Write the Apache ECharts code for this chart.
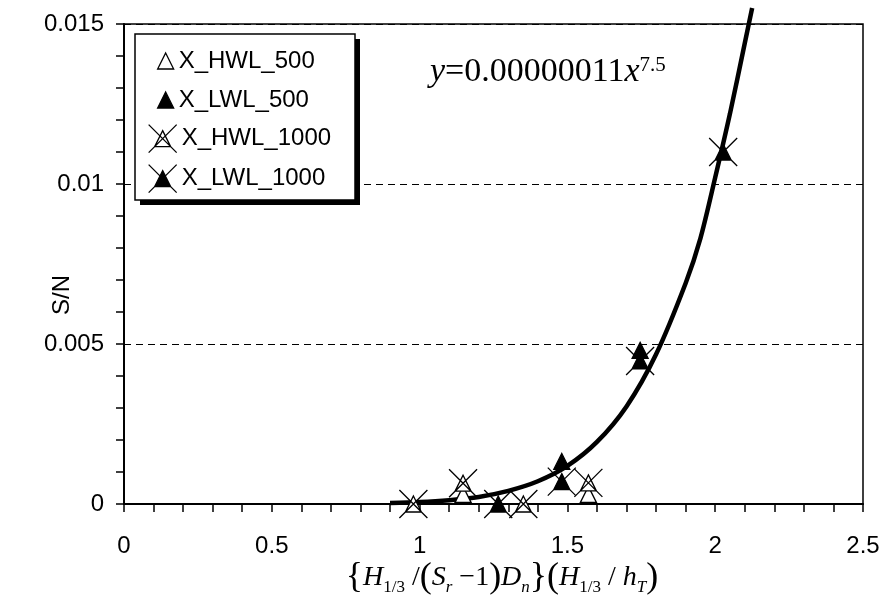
<!DOCTYPE html>
<html><head><meta charset="utf-8">
<script src="https://cdn.jsdelivr.net/npm/echarts@6/dist/echarts.min.js"></script>
<style>html,body{margin:0;padding:0;background:#fff}#c{width:883px;height:599px}</style>
</head><body><div id="c"></div>
<script>
// ---- data ----
const xTickLabels = ['0', '0.5', '1', '1.5', '2', '2.5'];
const yTickLabels = ['0', '0.005', '0.01', '0.015'];
const seriesNames = ['X_HWL_500', 'X_LWL_500', 'X_HWL_1000', 'X_LWL_1000'];
const hwl500 = [[1.147, 0.0003], [1.571, 0.0003]];
const lwl500 = [[1.481, 0.00133], [1.746, 0.0048]];
const hwl1000 = [[0.979, 0], [1.147, 0.00065], [1.351, 0], [1.571, 0.00066]];
const lwl1000 = [[1.266, 0], [1.481, 0.0007], [1.746, 0.00447], [2.027, 0.011]];
const fitX = [0.90, 1.00, 1.10, 1.20, 1.30, 1.40, 1.50, 1.60, 1.70, 1.80, 1.90, 1.95, 2.00, 2.05, 2.10, 2.125];
const fitY = [0.00003, 0.00006, 0.00012, 0.00022, 0.00041, 0.00071, 0.00119, 0.00194, 0.00305, 0.00468, 0.00690, 0.00830, 0.01020, 0.01220, 0.01440, 0.01550];
const equationParts = ['y', '=0.00000011', 'x', '7.5'];

// ---- chart ----
const chart = echarts.init(document.getElementById('c'), null, {renderer: 'canvas'});
const SANS = 'Liberation Sans';
const SERIF = 'Liberation Serif';
const comboPath = 'path://M0 0L28 28M28 0L0 28M14 6L22 22L6 22Z';

function fmt(list, ticks) {
  return function (v) {
    for (let i = 0; i < ticks.length; i++) if (Math.abs(v - ticks[i]) < 1e-9) return list[i];
    return '';
  };
}
const xTickVals = xTickLabels.map(Number);
const yTickVals = yTickLabels.map(Number);

const openStyle = {color: '#fff', borderColor: '#000', borderWidth: 1.3, opacity: 1};
const fillStyle = {color: '#000', borderColor: '#000', borderWidth: 1.3, opacity: 1};

function legendFor(name, left, top, size, gap, style) {
  return {
    data: [{name: name, itemStyle: style}], left: left, top: top, orient: 'horizontal', padding: 0,
    itemWidth: size, itemHeight: size, itemGap: 0, itemTextGap: gap,
    selectedMode: false, z: 6,
    itemStyle: style,
    textStyle: {fontFamily: SANS, fontSize: 24, color: '#000'}
  };
}

const axisCommon = {
  axisLine: {show: true, onZero: false, lineStyle: {color: '#000', width: 2}},
  axisTick: {show: true, inside: false, length: 8, lineStyle: {color: '#000', width: 1.5}},
  minorTick: {show: true, splitNumber: 5, length: 8, lineStyle: {color: '#000', width: 1.5}},
  axisLabel: {color: '#000', fontFamily: SANS, fontSize: 24}
};

const option = {
  animation: false,
  backgroundColor: '#fff',
  grid: {left: 124, right: 20, top: 24, bottom: 95, show: true, borderColor: '#000', borderWidth: 1.5, backgroundColor: 'transparent'},
  xAxis: Object.assign({}, axisCommon, {
    type: 'value', min: 0, max: 2.5, interval: 0.5,
    splitLine: {show: false},
    axisLabel: Object.assign({}, axisCommon.axisLabel, {margin: 30, formatter: fmt(xTickLabels, xTickVals)})
  }),
  yAxis: Object.assign({}, axisCommon, {
    type: 'value', min: 0, max: 0.015, interval: 0.005,
    splitLine: {show: true, lineStyle: {color: '#000', width: 1, type: [7, 5]}},
    axisLabel: Object.assign({}, axisCommon.axisLabel, {margin: 20, formatter: fmt(yTickLabels, yTickVals)})
  }),
  legend: [
    legendFor(seriesNames[0], 157, 49, 16, 7, openStyle),
    legendFor(seriesNames[1], 157, 88, 16, 7, fillStyle),
    legendFor(seriesNames[2], 148, 124, 28, 4, openStyle),
    legendFor(seriesNames[3], 148, 164, 28, 4, fillStyle)
  ],
  graphic: [
    {type: 'rect', z: 5, shape: {x: 140, y: 39, width: 220, height: 166},
     style: {fill: '#000', stroke: null}},
    {type: 'rect', z: 5, shape: {x: 135, y: 34, width: 220, height: 166},
     style: {fill: '#fff', stroke: '#000', lineWidth: 1.5}},
    {type: 'text', z: 5, x: 430, y: 72,
     style: {
       text: '{i|' + equationParts[0] + '}{n|' + equationParts[1] + '}{i|' + equationParts[2] + '}{s|' + equationParts[3] + '}',
       verticalAlign: 'middle', align: 'left', fill: '#000',
       rich: {
         i: {fontFamily: SERIF, fontStyle: 'italic', fontSize: 34, fill: '#000'},
         n: {fontFamily: SERIF, fontSize: 34, fill: '#000'},
         s: {fontFamily: SERIF, fontSize: 21, verticalAlign: 'top', fill: '#000'}
       }
     }},
    {type: 'text', z: 5, x: 502, y: 578,
     style: {
       text: '{b|{}{i|H}{s|1/3}{n| /}{b|(}{i|S}{si|r}{n| \u22121}{b|)}{i|D}{si|n}}{b|(}{i|H}{s|1/3}{n| / }{i|h}{si|T}{b|)}',
       font: '36px ' + SERIF, fill: '#000',
       verticalAlign: 'middle', align: 'center',
       rich: {
         b: {fontFamily: SERIF, fontSize: 36, fill: '#000'},
         i: {fontFamily: SERIF, fontStyle: 'italic', fontSize: 28, fill: '#000'},
         n: {fontFamily: SERIF, fontSize: 28, fill: '#000'},
         s: {fontFamily: SERIF, fontSize: 17, verticalAlign: 'bottom', fill: '#000'},
         si: {fontFamily: SERIF, fontStyle: 'italic', fontSize: 17, verticalAlign: 'bottom', fill: '#000'}
       }
     }},
    {type: 'text', z: 5, x: 62, y: 295, rotation: Math.PI / 2,
     style: {text: 'S/N', font: '24px ' + SANS, fill: '#000', align: 'center', verticalAlign: 'middle'}}
  ],
  series: [
    {type: 'line', name: 'fit', data: fitX.map((x, i) => [x, fitY[i]]), showSymbol: false, symbol: 'none',
     smooth: 0.3, clip: false, lineStyle: {color: '#000', width: 4.5}, z: 2, silent: true},
    {type: 'scatter', name: seriesNames[0], data: hwl500, symbol: 'triangle', symbolSize: 16, itemStyle: openStyle, z: 3, clip: false},
    {type: 'scatter', name: seriesNames[1], data: lwl500, symbol: 'triangle', symbolSize: 16, itemStyle: fillStyle, z: 3, clip: false},
    {type: 'scatter', name: seriesNames[2], data: hwl1000, symbol: comboPath, symbolSize: 28, itemStyle: openStyle, z: 4, clip: false},
    {type: 'scatter', name: seriesNames[3], data: lwl1000, symbol: comboPath, symbolSize: 28, itemStyle: fillStyle, z: 4, clip: false}
  ]
};
chart.setOption(option);
</script>
</body></html>
